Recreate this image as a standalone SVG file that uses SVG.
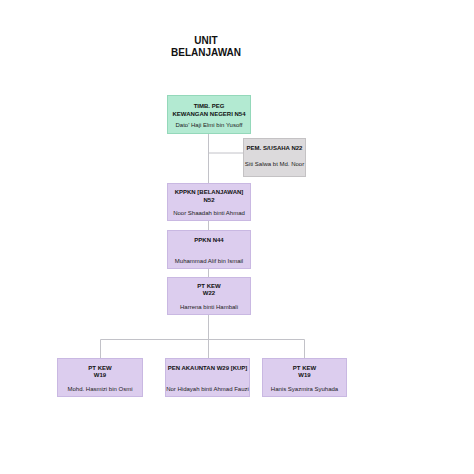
<svg xmlns="http://www.w3.org/2000/svg" width="474" height="474" viewBox="0 0 474 474">
<style>
.bg{fill:#ffffff}
.title{font-family:"Liberation Sans",Arial,sans-serif;font-weight:bold;font-size:10px;fill:#111;text-anchor:middle}
.t{font-family:"Liberation Sans",Arial,sans-serif;font-weight:bold;font-size:6px;fill:#111;text-anchor:middle}
.n{font-family:"Liberation Sans",Arial,sans-serif;font-size:6px;fill:#222;text-anchor:middle}
.green{fill:#b3ead2;stroke:#94d8ba;stroke-width:1}
.gray{fill:#dcdadc;stroke:#c4c2c4;stroke-width:1}
.purple{fill:#dccdee;stroke:#c9b8e2;stroke-width:1}
.conn{stroke:#c2c2c8;stroke-width:1;fill:none}
</style>
<rect class="bg" x="0" y="0" width="474" height="474"/>
<g id="title">
<text class="title" x="206" y="44">UNIT</text>
<text class="title" x="206" y="55.5">BELANJAWAN</text>
</g>
<g id="connectors">
<path class="conn" d="M208.5 133 V358"/>
<path class="conn" d="M208.5 153 H243"/>
<path class="conn" d="M100.5 358 V339.5 H304.5 V358"/>
</g>
<g id="n54">
<rect class="green" x="167.5" y="95.5" width="83" height="38"/>
<text class="t" x="209" y="108">TIMB. PEG</text>
<text class="t" x="209" y="115.5">KEWANGAN NEGERI N54</text>
<text class="n" x="209" y="127">Dato' Haji Elmi bin Yusoff</text>
</g>
<g id="n22">
<rect class="gray" x="243.5" y="138.5" width="62" height="38"/>
<text class="t" x="274.5" y="150">PEM. S/USAHA N22</text>
<text class="n" x="274.5" y="166">Siti Salwa bt Md. Noor</text>
</g>
<g id="n52">
<rect class="purple" x="167.5" y="183.5" width="83" height="37"/>
<text class="t" x="209" y="194">KPPKN [BELANJAWAN]</text>
<text class="t" x="209" y="201.5">N52</text>
<text class="n" x="209" y="214.5">Noor Shaadah binti Ahmad</text>
</g>
<g id="n44">
<rect class="purple" x="167.5" y="230.5" width="83" height="38"/>
<text class="t" x="209" y="242">PPKN N44</text>
<text class="n" x="209" y="262.5">Muhammad Alif bin Ismail</text>
</g>
<g id="w22">
<rect class="purple" x="167.5" y="277.5" width="83" height="37"/>
<text class="t" x="209" y="287.5">PT KEW</text>
<text class="t" x="209" y="295">W22</text>
<text class="n" x="209" y="309">Harrena binti Hambali</text>
</g>
<g id="w19a">
<rect class="purple" x="57.5" y="358.5" width="85" height="38"/>
<text class="t" x="100" y="369.5">PT KEW</text>
<text class="t" x="100" y="377">W19</text>
<text class="n" x="100" y="390.5">Mohd. Hasmizi bin Osmi</text>
</g>
<g id="w29">
<rect class="purple" x="165.5" y="358.5" width="84" height="38"/>
<text class="t" x="207.5" y="370">PEN AKAUNTAN W29 [KUP]</text>
<text class="n" x="207.5" y="391">Nor Hidayah binti Ahmad Fauzi</text>
</g>
<g id="w19b">
<rect class="purple" x="262.5" y="358.5" width="84" height="38"/>
<text class="t" x="304.5" y="369.5">PT KEW</text>
<text class="t" x="304.5" y="377">W19</text>
<text class="n" x="304.5" y="390.5">Hanis Syazmira Syuhada</text>
</g>
</svg>
